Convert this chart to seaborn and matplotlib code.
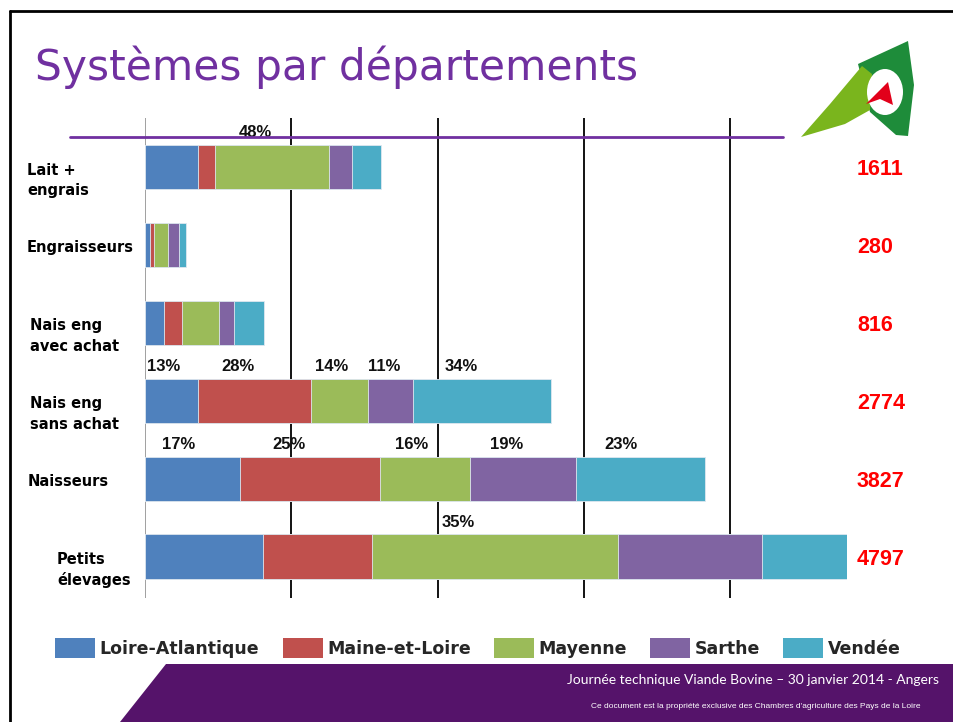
import numpy as np
import matplotlib
matplotlib.use("Agg")
import matplotlib.pyplot as plt
from matplotlib.patches import Polygon, Ellipse, Patch
from matplotlib.lines import Line2D
import matplotlib.transforms as mtransforms
import seaborn as sns

# data
systems = ["Lait +\nengrais", "Engraisseurs", "Nais eng\navec achat",
           "Nais eng\nsans achat", "Naisseurs", "Petits\nélevages"]
departments = ["Loire-Atlantique", "Maine-et-Loire", "Mayenne", "Sarthe", "Vendée"]
loire_atlantique = [364, 34, 131, 361, 651, 805]
maine_et_loire = [118, 27, 124, 777, 957, 750]
mayenne = [773, 96, 250, 388, 612, 1679]
sarthe = [158, 75, 104, 305, 727, 985]
vendee = [198, 48, 207, 943, 880, 578]
totals = [1611, 280, 816, 2774, 3827, 4797]
pct_labels = [
    [None, None, "48%", None, None],
    [None, None, None, None, None],
    [None, None, None, None, None],
    ["13%", "28%", "14%", "11%", "34%"],
    ["17%", "25%", "16%", "19%", "23%"],
    [None, None, "35%", None, None],
]
colors = ["#4F81BD", "#C0504D", "#9BBB59", "#8064A2", "#4BACC6"]

W, H = 954, 722


def fx(x):
    return x / W


def fy(y):
    return 1 - y / H


sns.set_theme(style="white")
plt.rcParams["font.family"] = ["DejaVu Sans"]

fig = plt.figure(figsize=(W / 100, H / 100), dpi=100)
fig.patch.set_facecolor("white")

ax = fig.add_axes([fx(145), fy(598), 702 / W, 480 / H])

values = np.array([loire_atlantique, maine_et_loire, mayenne, sarthe, vendee])
cum = np.cumsum(values, axis=0)

# stacked bars: draw cumulative totals from the last department backwards
for i in range(len(departments) - 1, -1, -1):
    sns.barplot(x=cum[i], y=systems, orient="h", color=colors[i], saturation=1,
                width=0.57, edgecolor="#dfe8f0", linewidth=0.6, ax=ax)

ax.set_xlim(0, 4800)
ax.set_ylim(5.53, -0.63)
ax.set_xticks([1000, 2000, 3000, 4000])
ax.xaxis.grid(True, color="black", linewidth=1.3)
ax.yaxis.grid(False)
ax.set_axisbelow(True)
ax.axvline(0, color="#999999", linewidth=1.3, zorder=0)
ax.tick_params(length=0, labelbottom=False, labelleft=False)
ax.set_xlabel("")
ax.set_ylabel("")
for s in ax.spines.values():
    s.set_visible(False)

# percentage labels above segments
for r, row in enumerate(pct_labels):
    for c, lab in enumerate(row):
        if lab is None:
            continue
        start = cum[c, r] - values[c, r]
        ax.text(start + 0.35 * values[c, r], r - 0.44, lab, ha="center", va="center",
                fontsize=12, fontweight="bold", family="Liberation Sans", color="#111111")

# totals in red on the right
for r, t in enumerate(totals):
    ax.text(4868, r + 0.03, str(t), ha="left", va="center", fontsize=15.5,
            fontweight="bold", family="Liberation Sans", color="#FF0000", clip_on=False)

# category labels on the left (two-line labels sit a little lower)
trans = mtransforms.blended_transform_factory(fig.transFigure, ax.transData)
label_x = [27, 27, 30, 30, 28, 57]
for r, lab in enumerate(systems):
    dy = 0.17 if "\n" in lab else 0.03
    ax.text(fx(label_x[r]), r + dy, lab, transform=trans, ha="left", va="center",
            fontsize=10.5, fontweight="bold", color="black", linespacing=1.45)

# legend
handles = [Patch(facecolor=colors[i], edgecolor="none") for i in range(len(departments))]
fig.legend(handles, departments, loc="center", bbox_to_anchor=(fx(478), fy(648)),
           ncol=5, frameon=False, handlelength=2.3, handleheight=1.45,
           handletextpad=0.25, columnspacing=1.35,
           prop={"weight": "bold", "size": 12.5})

# slide decorations
fig.text(fx(35), fy(80), "Systèmes par départements", ha="left", va="baseline",
         fontsize=30.5, color="#7030A0")
fig.add_artist(Line2D([fx(70), fx(783)], [fy(137), fy(137)], color="#7030A0", lw=2))
fig.add_artist(Line2D([fx(10), fx(10)], [fy(11), fy(722)], color="black", lw=2))
fig.add_artist(Line2D([fx(10), fx(954)], [fy(11), fy(11)], color="black", lw=2))


def poly(pts, color, z=3):
    fig.add_artist(Polygon([(fx(x), fy(y)) for x, y in pts], closed=True,
                           facecolor=color, edgecolor="none", zorder=z))


# footer banner
poly([(166, 664), (954, 664), (954, 722), (120, 722)], "#55136A")
fig.text(fx(567), fy(680), "Journée technique Viande Bovine – 30 janvier 2014 - Angers",
         ha="left", va="center", fontsize=10, family="Lato", color="white")
fig.text(fx(591), fy(706),
         "Ce document est la propriété exclusive des Chambres d'agriculture des Pays de la Loire",
         ha="left", va="center", fontsize=6, family="Liberation Sans", color="white")

# logo
poly([(858, 64), (908, 41), (914, 85), (908, 136), (896, 135), (870, 112)], "#1E8C3A")
poly([(801, 137), (830, 104), (862, 66), (872, 74), (870, 110), (845, 124)], "#7AB51D")
fig.add_artist(Ellipse((fx(885), fy(92)), 36 / W, 46 / H, facecolor="white",
                       edgecolor="none", zorder=4))
poly([(866, 104), (888, 82), (893, 105), (880, 99)], "#E2001A", z=5)

fig.savefig("out.png", dpi=100)
